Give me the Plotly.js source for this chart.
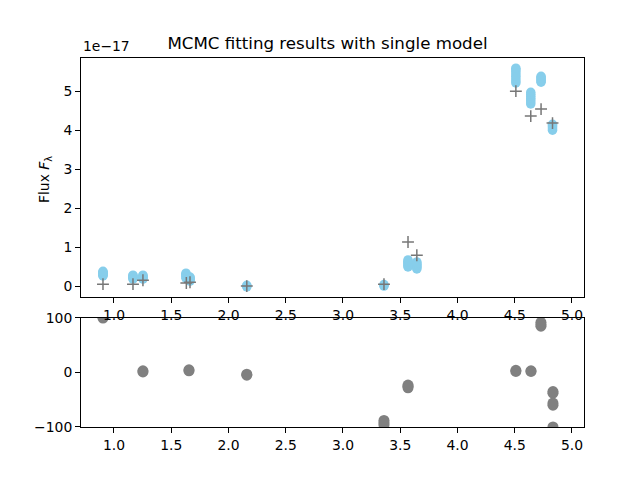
<!DOCTYPE html>
<html>
<head>
<meta charset="utf-8">
<script src="https://cdn.plot.ly/plotly-3.0.1.min.js"></script>
<style>html,body{margin:0;padding:0;background:#fff;}#chart{width:640px;height:480px;}</style>
</head>
<body>
<div id="chart"></div>
<script>
// Flux values are in units of 1e-17
const bandWave = [0.904, 1.166, 1.253, 1.629, 1.664, 2.16, 3.358, 3.568, 3.645, 4.51, 4.64, 4.73, 4.83];
const modelSamples = [
  [0.26, 0.28, 0.30, 0.32, 0.34, 0.36, 0.38],
  [0.18, 0.20, 0.22, 0.24, 0.26, 0.28],
  [0.18, 0.20, 0.22, 0.24, 0.26, 0.28],
  [0.20, 0.23, 0.26, 0.29, 0.31, 0.33],
  [0.13, 0.15, 0.17, 0.19, 0.21, 0.23],
  [-0.02, 0.0, 0.02],
  [0.0, 0.02, 0.04],
  [0.49, 0.52, 0.55, 0.58, 0.61, 0.64, 0.67],
  [0.44, 0.47, 0.50, 0.53, 0.56, 0.59, 0.62],
  [5.21, 5.26, 5.32, 5.38, 5.44, 5.50, 5.55, 5.59],
  [4.67, 4.72, 4.77, 4.82, 4.87, 4.92, 4.97],
  [5.23, 5.26, 5.29, 5.32, 5.35, 5.38],
  [4.00, 4.03, 4.06, 4.09, 4.12, 4.15]
];
const obsWave = [0.904, 1.166, 1.253, 1.632, 1.664, 2.16, 3.358, 3.568, 3.645, 4.51, 4.64, 4.73, 4.83];
const obsFlux = [0.05, 0.05, 0.15, 0.08, 0.10, 0.0, 0.05, 1.13, 0.79, 5.0, 4.36, 4.54, 4.18];

const resWave = [0.904, 1.253, 1.655, 2.16, 3.358, 3.568, 4.51, 4.642, 4.729, 4.834];
const resSamples = [
  [100, 102],
  [1, 3],
  [3, 5],
  [-5, -3],
  [-88, -92, -96],
  [-23, -25, -28],
  [2, 4],
  [2, 3],
  [85, 88, 92],
  [-35, -38, -56, -60, -100, -104]
];

const xTicks = [1.0, 1.5, 2.0, 2.5, 3.0, 3.5, 4.0, 4.5, 5.0];
const fluxTicks = [0, 1, 2, 3, 4, 5];
const resTicks = [-100, 0, 100];

const mX = [], mY = [];
bandWave.forEach((w, i) => modelSamples[i].forEach(v => { mX.push(w); mY.push(v); }));
const rX = [], rY = [];
resWave.forEach((w, i) => resSamples[i].forEach(v => { rX.push(w); rY.push(v); }));

const font = {family: 'DejaVu Sans', size: 13.9, color: '#000'};

const traces = [
  {x: mX, y: mY, type: 'scatter', mode: 'markers', xaxis: 'x2', yaxis: 'y',
   marker: {color: '#87ceeb', size: 9.5, line: {width: 0}}, showlegend: false, hoverinfo: 'skip'},
  {x: obsWave, y: obsFlux, type: 'scatter', mode: 'markers', xaxis: 'x2', yaxis: 'y',
   marker: {symbol: 'cross-thin', color: 'rgba(0,0,0,0)', size: 8.5, line: {color: '#777777', width: 1.5}}, showlegend: false},
  {x: rX, y: rY, type: 'scatter', mode: 'markers', xaxis: 'x', yaxis: 'y2',
   marker: {color: '#808080', size: 11, line: {width: 0}}, showlegend: false}
];

const axisCommon = {
  showline: true, mirror: true, linecolor: '#000', linewidth: 1,
  ticks: 'outside', ticklen: 5, tickwidth: 1, tickcolor: '#000',
  showgrid: false, zeroline: false, tickfont: font
};

const xr = [0.712, 5.105];
const layout = {
  width: 640, height: 480,
  margin: {l: 81, r: 56, t: 58, b: 53},
  paper_bgcolor: '#fff', plot_bgcolor: '#fff',
  font: font,
  title: {text: 'MCMC fitting results with single model', font: {family: 'DejaVu Sans', size: 16.67, color: '#000'},
          x: (327.5 - 81) / 503, xref: 'paper', xanchor: 'center', y: 1 - 43/480, yref: 'container', yanchor: 'middle'},
  xaxis: Object.assign({}, axisCommon, {anchor: 'y2', domain: [0, 1], range: xr, tickvals: xTicks,
          ticktext: xTicks.map(v => v.toFixed(1))}),
  xaxis2: Object.assign({}, axisCommon, {anchor: 'y', domain: [0, 1], range: xr, tickvals: xTicks,
          ticktext: xTicks.map(v => v.toFixed(1)), matches: 'x'}),
  yaxis: Object.assign({}, axisCommon, {anchor: 'x2', domain: [0.3523, 1], range: [-0.28, 5.85],
          tickvals: fluxTicks, ticktext: fluxTicks.map(String)}),
  yaxis2: Object.assign({}, axisCommon, {anchor: 'x', domain: [0, 0.2954], range: [-100, 100],
          tickvals: resTicks, ticktext: resTicks.map(v => v < 0 ? '\u2212' + Math.abs(v) : String(v))}),
  annotations: [
    {text: '1e\u221217', xref: 'paper', yref: 'paper', x: 0, y: 1, xanchor: 'left', yanchor: 'bottom',
     yshift: 2, showarrow: false, font: font},
    {text: 'Flux <i>F</i><sub>λ</sub>', xref: 'paper', yref: 'paper', x: (45 - 81) / 503,
     y: 1 - (180 - 58) / 369, xanchor: 'center', yanchor: 'middle', textangle: -90, showarrow: false, font: font}
  ]
};

Plotly.newPlot('chart', traces, layout, {displayModeBar: false, staticPlot: true});
</script>
</body>
</html>
